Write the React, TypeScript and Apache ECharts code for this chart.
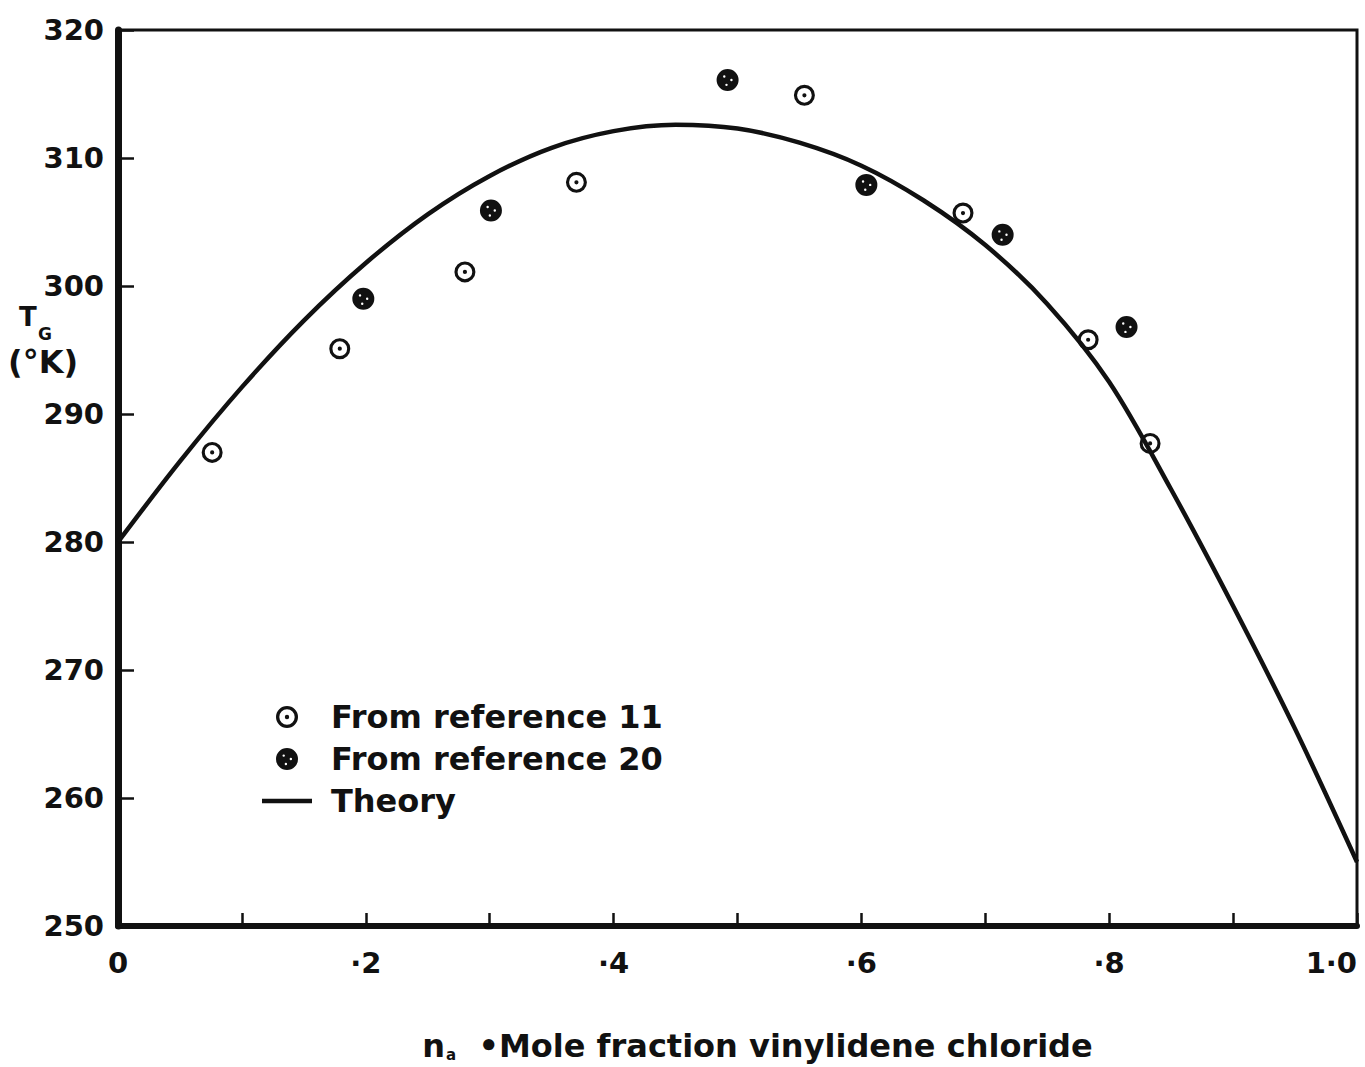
import React, { useEffect, useRef } from "react";
import * as echarts from "echarts";

// Reference 11 (open circle with centre dot)
const ref11X = [0.076, 0.179, 0.280, 0.370, 0.554, 0.682, 0.783, 0.833];
const ref11Y = [287.0, 295.1, 301.1, 308.1, 314.9, 305.7, 295.8, 287.7];
// Reference 20 (filled circle)
const ref20X = [0.198, 0.301, 0.492, 0.604, 0.714, 0.814];
const ref20Y = [299.0, 305.9, 316.1, 307.9, 304.0, 296.8];
// Theory curve
const theoryX = [0, 0.05, 0.1, 0.15, 0.2, 0.25, 0.3, 0.35, 0.4, 0.45, 0.5, 0.55, 0.6, 0.65, 0.7, 0.75, 0.8, 0.85, 0.9, 0.95, 1.0];
const theoryY = [280.0, 286.3, 292.1, 297.3, 301.8, 305.6, 308.6, 310.8, 312.1, 312.6, 312.3, 311.2, 309.4, 306.7, 303.2, 298.6, 292.5, 284.1, 275.0, 265.4, 255.0];

const yMin = 250;
const yMax = 320;
const yStep = 10;
const xMin = 0;
const xMax = 1;
const xStep = 0.1;

const legendNames = ["From reference 11", "From reference 20", "Theory"];
const xAxisTitle = "Mole fraction vinylidene chloride";

const FONT = "DejaVu Sans";

const ringSymbol =
  "path://M0,-10A10,10,0,1,1,0,10A10,10,0,1,1,0,-10Z" +
  "M0,-7A7,7,0,1,0,0,7A7,7,0,1,0,0,-7Z" +
  "M0,-2A2,2,0,1,1,0,2A2,2,0,1,1,0,-2Z";
const filledSymbol =
  "path://M0,-10A10,10,0,1,1,0,10A10,10,0,1,1,0,-10Z" +
  "M-3,-4.2A1.1,1.1,0,1,0,-3,-2A1.1,1.1,0,1,0,-3,-4.2Z" +
  "M3.5,-1.1A1.1,1.1,0,1,0,3.5,1.1A1.1,1.1,0,1,0,3.5,-1.1Z" +
  "M-1,3.4A1.1,1.1,0,1,0,-1,5.6A1.1,1.1,0,1,0,-1,3.4Z";
const lineIcon = "path://M0,0H50V4.5H0Z";

export default function App() {
  const ref = useRef<HTMLDivElement>(null);
  useEffect(() => {
    if (!ref.current) return;
    const chart = echarts.init(ref.current, null, { renderer: "svg" });
    const option = {
      animation: false,
      backgroundColor: "#ffffff",
      grid: {
        left: 118,
        right: 8,
        top: 30,
        bottom: 140,
        show: true,
        borderColor: "#111",
        borderWidth: 3,
        backgroundColor: "transparent",
      },
      legend: {
        orient: "vertical",
        left: 257,
        top: 696,
        itemWidth: 50,
        itemHeight: 22,
        itemGap: 10,
        data: [
          { name: legendNames[0] },
          { name: legendNames[1] },
          { name: legendNames[2], icon: lineIcon, itemStyle: { color: "#111" } },
        ],
        textStyle: {
          fontFamily: FONT,
          fontWeight: "bold",
          fontSize: 32,
          lineHeight: 22,
          color: "#111",
          padding: [0, 0, 0, 14],
        },
      },
      xAxis: {
        type: "value",
        min: xMin,
        max: xMax,
        interval: xStep,
        name: "{n|n}{s|a}{t|  •" + xAxisTitle + "}",
        nameLocation: "middle",
        nameGap: 98,
        nameTextStyle: {
          padding: [0, 0, 0, 40],
          rich: {
            n: { fontFamily: FONT, fontWeight: "bold", fontSize: 32, color: "#111", lineHeight: 38, verticalAlign: "bottom" },
            s: { fontFamily: FONT, fontWeight: "bold", fontSize: 15, color: "#111", lineHeight: 38, verticalAlign: "bottom", padding: [0, 0, 0, 1] },
            t: { fontFamily: FONT, fontWeight: "bold", fontSize: 32, color: "#111", lineHeight: 38, verticalAlign: "bottom" },
          },
        },
        axisLine: { show: true, onZero: false, lineStyle: { color: "#111", width: 6 } },
        axisTick: { show: true, inside: true, length: 13, lineStyle: { color: "#111", width: 2.5 } },
        splitLine: { show: false },
        axisLabel: {
          margin: 22,
          fontFamily: FONT,
          fontWeight: "bold",
          fontSize: 29,
          color: "#111",
          alignMaxLabel: "right",
          formatter: (v: number) => {
            const k = Math.round(v * 10);
            if (k % 2 !== 0) return "";
            if (k === 0) return "0";
            if (k === 10) return "1·0";
            return "·" + k;
          },
        },
      },
      yAxis: {
        type: "value",
        min: yMin,
        max: yMax,
        interval: yStep,
        axisLine: { show: true, onZero: false, lineStyle: { color: "#111", width: 7 } },
        axisTick: { show: true, inside: true, length: 16, lineStyle: { color: "#111", width: 2.5 } },
        splitLine: { show: false },
        axisLabel: {
          margin: 14,
          fontFamily: FONT,
          fontWeight: "bold",
          fontSize: 29,
          color: "#111",
        },
      },
      graphic: [
        {
          type: "text",
          left: 19,
          top: 304,
          style: { text: "T", fontFamily: FONT, fontWeight: "bold", fontSize: 26, fill: "#111" },
        },
        {
          type: "text",
          left: 38,
          top: 325,
          style: { text: "G", fontFamily: FONT, fontWeight: "bold", fontSize: 17, fill: "#111" },
        },
        {
          type: "text",
          left: 8,
          top: 346,
          style: { text: "(°K)", fontFamily: FONT, fontWeight: "bold", fontSize: 32, fill: "#111" },
        },
      ],
      series: [
        {
          name: legendNames[2],
          type: "line",
          smooth: 0.33,
          symbol: "none",
          showSymbol: false,
          z: 2,
          lineStyle: { color: "#111", width: 4.5 },
          itemStyle: { color: "#111" },
          data: theoryX.map((x, i) => [x, theoryY[i]]),
        },
        {
          name: legendNames[0],
          type: "scatter",
          symbol: ringSymbol,
          symbolSize: 21,
          z: 3,
          itemStyle: { color: "#111", opacity: 1 },
          data: ref11X.map((x, i) => [x, ref11Y[i]]),
        },
        {
          name: legendNames[1],
          type: "scatter",
          symbol: filledSymbol,
          symbolSize: 22,
          z: 3,
          itemStyle: { color: "#111", opacity: 1 },
          data: ref20X.map((x, i) => [x, ref20Y[i]]),
        },
      ],
    };
    chart.setOption(option as any);
    return () => chart.dispose();
  }, []);
  return (
    <div
      ref={ref}
      style={{ position: "fixed", left: 0, top: 0, width: 1365, height: 1067, background: "#fff" }}
    />
  );
}
